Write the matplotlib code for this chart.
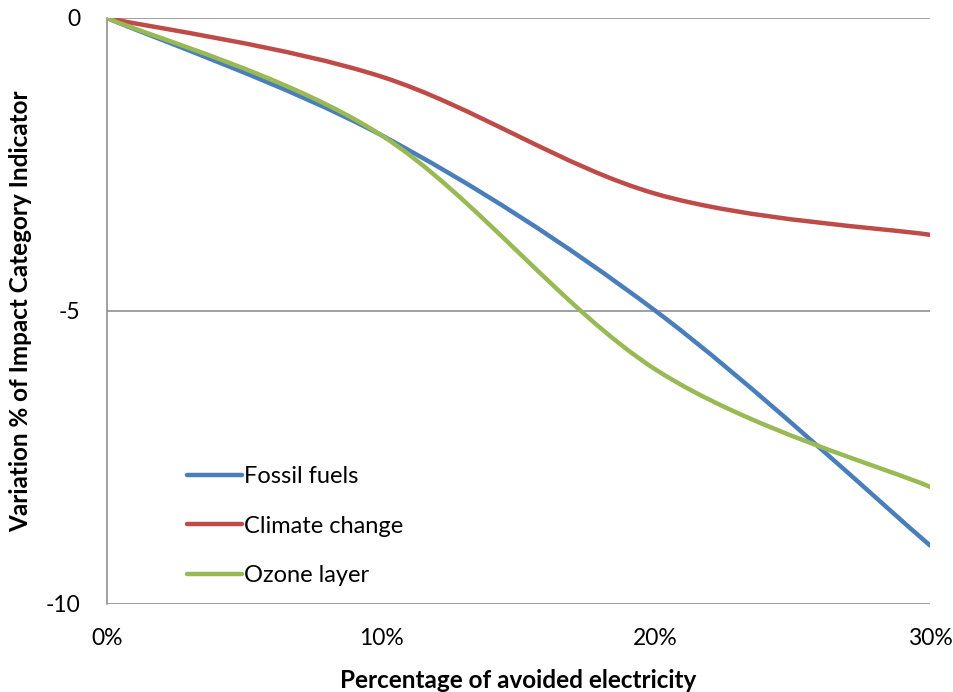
# Sensitivity of impact categories to avoided electricity

import matplotlib.pyplot as plt
from matplotlib.path import Path
from matplotlib.patches import PathPatch
from matplotlib.lines import Line2D
from matplotlib.ticker import PercentFormatter

plt.rcParams["font.family"] = ["Lato", "DejaVu Sans"]
plt.rcParams["axes.unicode_minus"] = False

# DATA
avoided = [0.0, 0.10, 0.20, 0.30]
fossil_fuels = [0.0, -2.0, -5.0, -9.0]
climate_change = [0.0, -1.0, -3.0, -3.7]
ozone_layer = [0.0, -2.0, -6.0, -8.0]

series_names = ["Fossil fuels", "Climate change", "Ozone layer"]
series_values = [fossil_fuels, climate_change, ozone_layer]
colors = ["#4A7EBB", "#BE4B48", "#98B954"]


def smooth_path(x, y):
    """Excel-like smoothed line: cubic Bezier segments through the points."""
    n = len(x)
    verts = [(x[0], y[0])]
    codes = [Path.MOVETO]
    for i in range(n - 1):
        a = max(i - 1, 0)
        b = min(i + 2, n - 1)
        c1 = (x[i] + (x[i + 1] - x[a]) / 6, y[i] + (y[i + 1] - y[a]) / 6)
        c2 = (x[i + 1] - (x[b] - x[i]) / 6, y[i + 1] - (y[b] - y[i]) / 6)
        verts += [c1, c2, (x[i + 1], y[i + 1])]
        codes += [Path.CURVE4] * 3
    return Path(verts, codes)


fig = plt.figure(figsize=(9.54, 6.92), dpi=100)
ax = fig.add_axes([0.1122, 0.1272, 0.8626, 0.8468])

handles = []
for name, vals, col in zip(series_names, series_values, colors):
    patch = PathPatch(smooth_path(avoided, vals), facecolor="none",
                      edgecolor=col, lw=3.2, capstyle="round", zorder=3)
    ax.add_patch(patch)
    handles.append(Line2D([], [], color=col, lw=3.2,
                          solid_capstyle="round", label=name))

ax.set_xlim(0, 0.30)
ax.set_ylim(-10, 0)
ax.set_xticks([0, 0.1, 0.2, 0.3])
ax.set_yticks([-10, -5, 0])
ax.xaxis.set_major_formatter(PercentFormatter(1.0, decimals=0))
ax.tick_params(length=0, labelsize=16.5)
ax.tick_params(axis="x", pad=17)
ax.tick_params(axis="y", pad=19)

ax.grid(axis="y", color="#868686", lw=1.1)
ax.set_axisbelow(True)
for side in ["top", "right", "bottom"]:
    ax.spines[side].set_visible(False)
ax.spines["left"].set_color("#868686")
ax.spines["left"].set_linewidth(1.1)

ax.set_xlabel("Percentage of avoided electricity", fontsize=17.5,
              fontweight="bold", labelpad=15)
ax.set_ylabel("Variation % of Impact Category Indicator", fontsize=17.5,
              fontweight="bold", labelpad=10)

ax.legend(handles=handles, loc="center left", bbox_to_anchor=(0.086, 0.133),
          borderaxespad=0, frameon=False, fontsize=17, handlelength=2.3,
          handletextpad=0.1, labelspacing=1.2)

plt.savefig("out.png", dpi=100)
